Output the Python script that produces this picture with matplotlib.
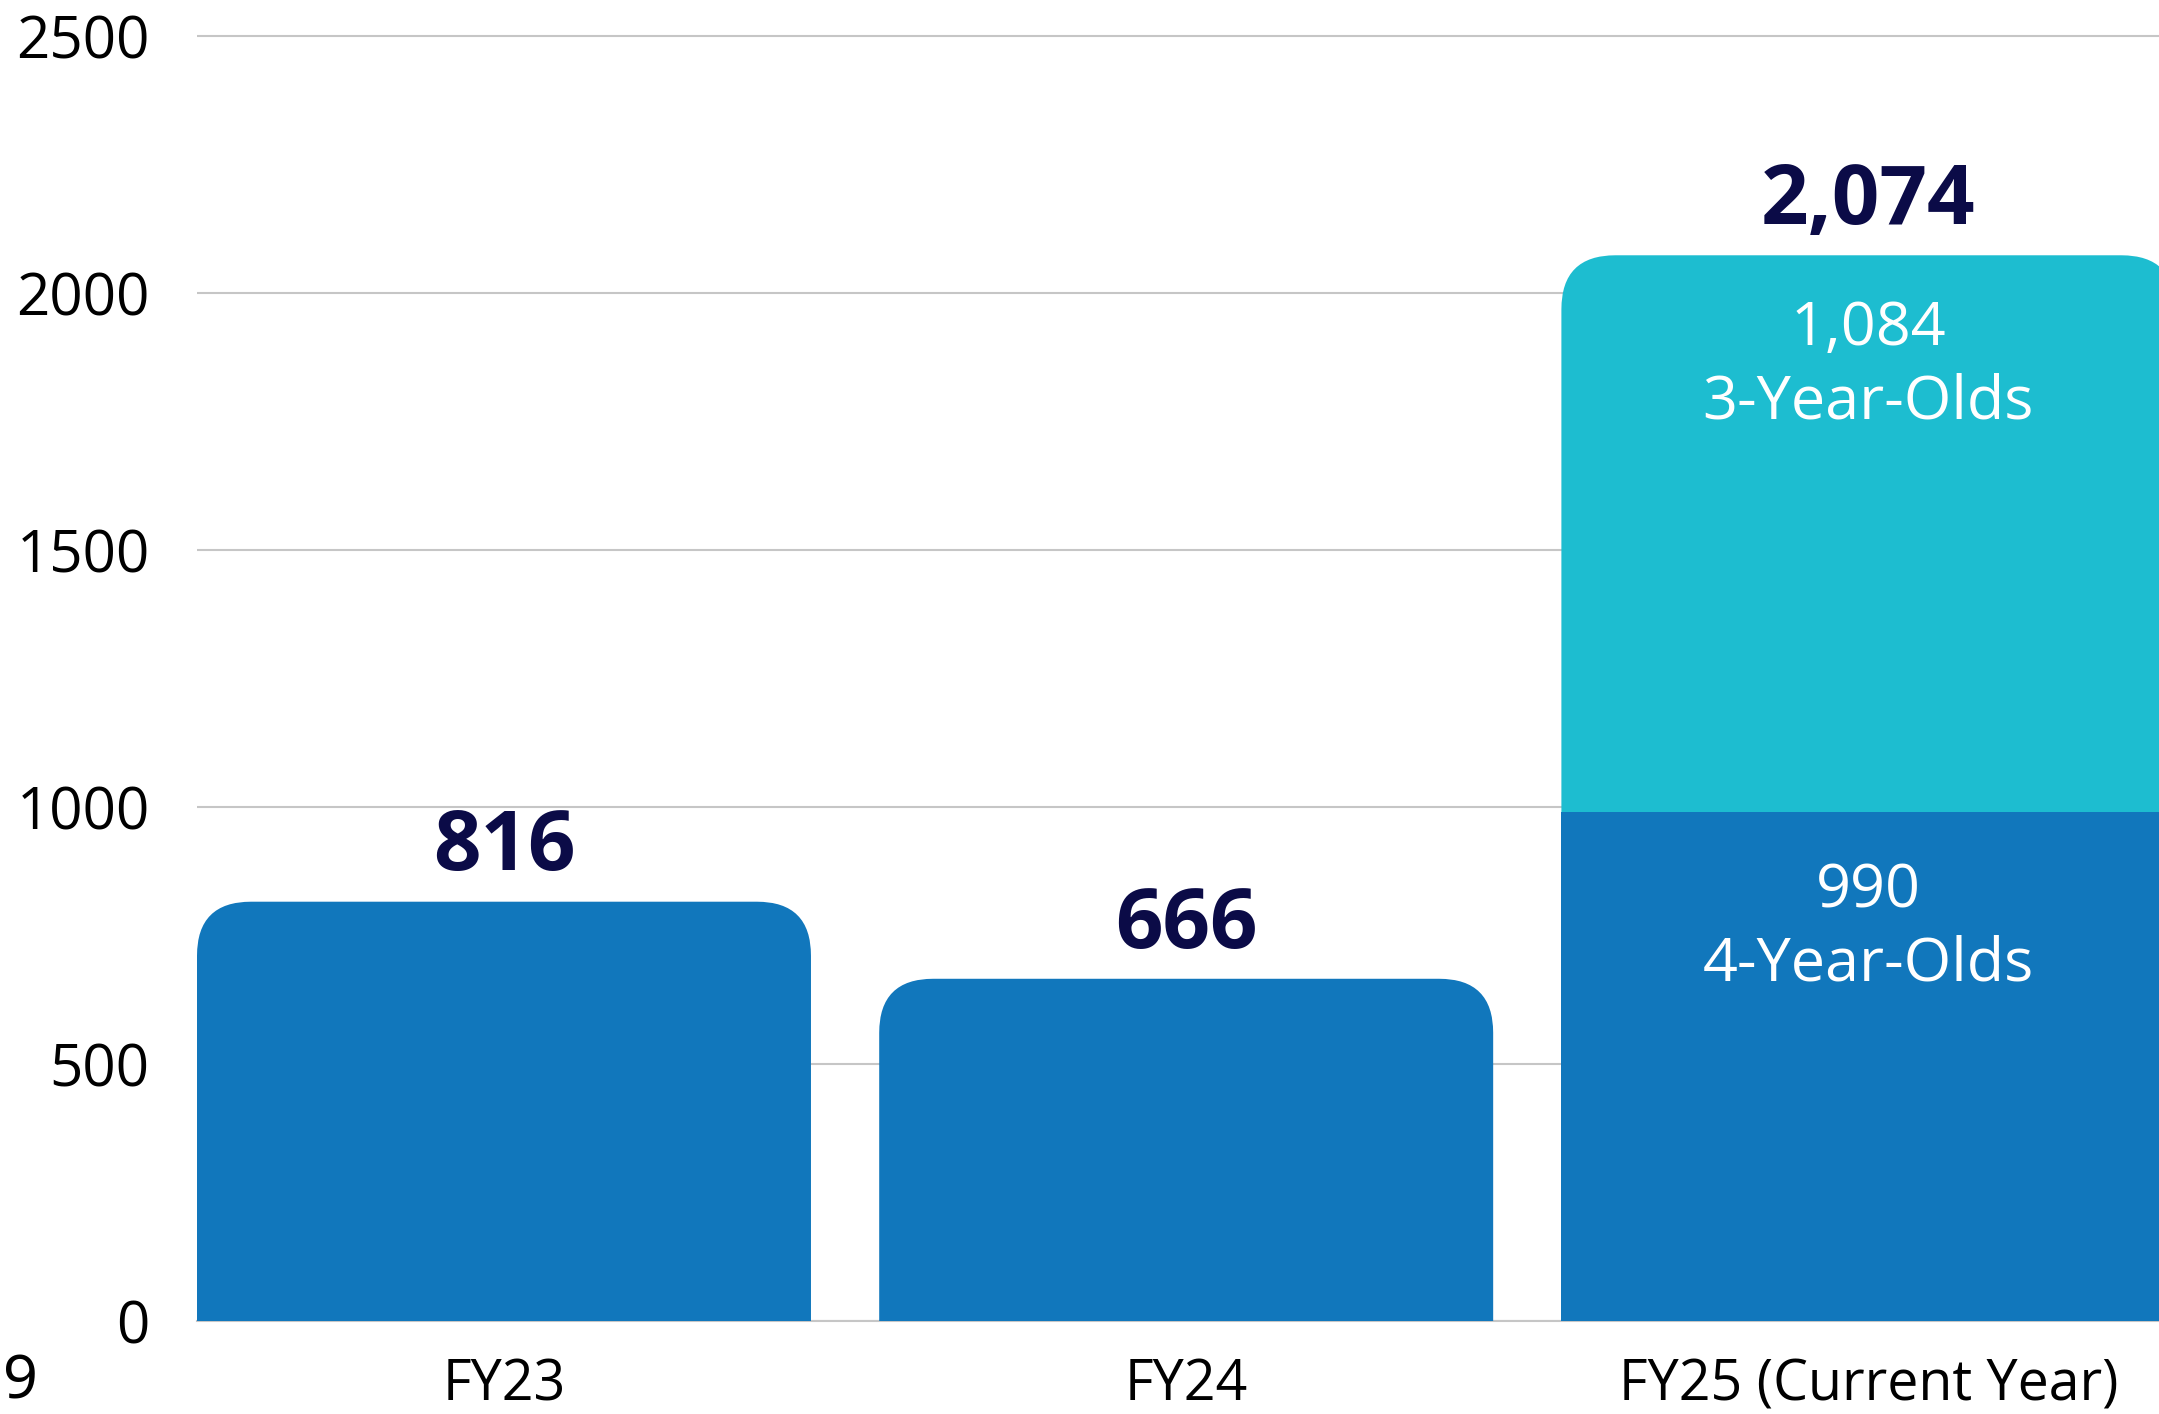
import numpy as np
import matplotlib
matplotlib.use('Agg')
import matplotlib.pyplot as plt
from matplotlib.patches import FancyBboxPatch

# enrolment by fiscal year
categories = ['FY23', 'FY24', 'FY25 (Current Year)']
four_year_olds = [816, 666, 990]
three_year_olds = [0, 0, 1084]
y_ticks = [0, 500, 1000, 1500, 2000, 2500]

dark_blue = '#1177bc'
cyan = '#1dbdd0'
navy = '#0b0b47'
grid_grey = '#c6c6c6'

plt.rcParams['font.family'] = ['Open Sans', 'DejaVu Sans']

W, H = 2159, 1414
fig = plt.figure(figsize=(W / 100, H / 100), dpi=100)
ax = fig.add_axes([197 / W, 93 / H, 1 - 197 / W, 1336 / H])

x = np.arange(len(categories))
width = 0.9
ax.set_xlim(-0.45, 2.426)
ax.set_ylim(0, 2600)

# corner radius in pixels, same both ways (bezier corner so a bit bigger)
px_x = ax.bbox.width / (2.426 + 0.45)
px_y = ax.bbox.height / 2600
rx = 54 / px_x
ry = 54 / px_y


def rounded_bar(xc, bottom, top, color, z):
    # rounded top, bottom corners hidden below the clip
    p = FancyBboxPatch((xc - width / 2, bottom), width, top - bottom,
                       boxstyle=f"round,pad=0,rounding_size={rx}",
                       mutation_aspect=ry / rx, facecolor=color,
                       edgecolor='none', zorder=z)
    ax.add_patch(p)


totals = [a + b for a, b in zip(four_year_olds, three_year_olds)]

for i in range(len(categories)):
    if three_year_olds[i] > 0:
        rounded_bar(x[i], four_year_olds[i] - 300, totals[i], cyan, 3)
        ax.bar(x[i], four_year_olds[i], width=width, color=dark_blue, zorder=4)
        # inside labels
        ax.text(x[i], totals[i] - 215, f"{three_year_olds[i]:,}\n3-Year-Olds",
                ha='center', va='center', color='white', fontsize=44,
                linespacing=1.3, zorder=5)
        ax.text(x[i], four_year_olds[i] - 225, f"{four_year_olds[i]:,}\n4-Year-Olds",
                ha='center', va='center', color='white', fontsize=44,
                linespacing=1.3, zorder=5)
    else:
        rounded_bar(x[i], -300, four_year_olds[i], dark_blue, 3)
    ax.annotate(f"{totals[i]:,}", (x[i], totals[i]), xytext=(0, 38),
                textcoords='offset points', ha='center', va='center',
                fontsize=60, fontweight='bold', color=navy, zorder=5)

ax.set_yticks(y_ticks)
ax.set_yticklabels([str(v) for v in y_ticks])
ax.set_xticks(x)
ax.set_xticklabels(categories)
ax.tick_params(axis='y', length=0, pad=34, labelsize=42, labelcolor='black')
ax.tick_params(axis='x', length=0, pad=26, labelsize=40, labelcolor='black')
for lbl in ax.get_yticklabels() + ax.get_xticklabels():
    lbl.set_fontweight('medium')

ax.yaxis.grid(True, color=grid_grey, linewidth=1.5)
ax.set_axisbelow(True)
for s in ['top', 'right', 'left']:
    ax.spines[s].set_visible(False)
ax.spines['bottom'].set_color(grid_grey)
ax.spines['bottom'].set_linewidth(1.5)

# stray label cut off at left edge
fig.text(3 / W, 1 - 1383 / H, '9', ha='left', va='center', fontsize=44,
         family=['Noto Sans', 'DejaVu Sans'], color='black')

plt.savefig('out.png', dpi=100)
